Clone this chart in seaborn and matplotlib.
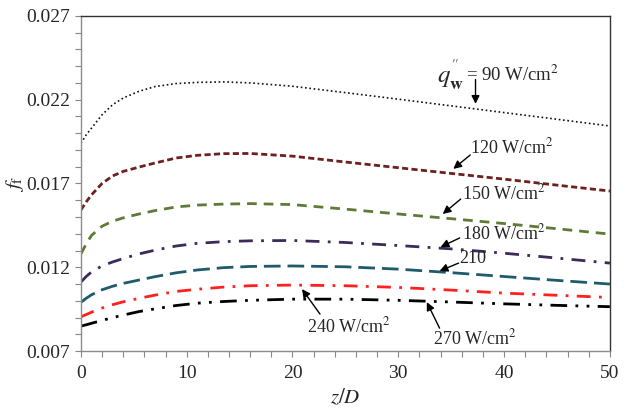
import matplotlib
matplotlib.use("Agg")
import matplotlib.pyplot as plt
import seaborn as sns
import pandas as pd
from matplotlib.ticker import MultipleLocator

sns.set_theme(style="white")
plt.rcParams['font.family'] = ['Liberation Serif', 'DejaVu Serif']
plt.rcParams['mathtext.fontset'] = 'stix'

z = [0, 0.5, 1, 2, 3, 4, 5.5, 7, 9, 11, 13.5, 16, 20, 25, 30, 35, 40, 45, 50]
f_90 = [0.0194, 0.0199, 0.0203, 0.0211, 0.0217, 0.0221, 0.0225, 0.02278, 0.02296, 0.02303,
        0.02306, 0.02300, 0.02280, 0.02242, 0.02203, 0.02163, 0.02123, 0.02083, 0.02043]
f_120 = [0.01542, 0.0159, 0.01632, 0.01700, 0.01745, 0.01772, 0.01798, 0.01822, 0.01852, 0.01868,
         0.01878, 0.01879, 0.01863, 0.01828, 0.01794, 0.0176, 0.01726, 0.0169, 0.01655]
f_150 = [0.01279, 0.0134, 0.0139, 0.01445, 0.01475, 0.01495, 0.01518, 0.01538, 0.0156, 0.01571,
         0.01577, 0.0158, 0.01574, 0.01547, 0.01518, 0.0149, 0.01461, 0.0143, 0.01398]
f_180 = [0.01112, 0.01145, 0.01172, 0.01208, 0.01232, 0.01252, 0.0128, 0.01302, 0.01327, 0.01343,
         0.01353, 0.01358, 0.0136, 0.01348, 0.0133, 0.0131, 0.01284, 0.01255, 0.01225]
f_210 = [0.00991, 0.01015, 0.01036, 0.01066, 0.01087, 0.01104, 0.01124, 0.01144, 0.01167, 0.01184,
         0.01198, 0.01205, 0.01208, 0.01203, 0.01189, 0.01168, 0.01145, 0.01122, 0.0110]
f_240 = [0.00905, 0.00918, 0.00932, 0.00957, 0.00977, 0.00994, 0.01015, 0.01034, 0.01056, 0.01069,
         0.01082, 0.0109, 0.01094, 0.0109, 0.0108, 0.01064, 0.01046, 0.01033, 0.0102]
f_270 = [0.00849, 0.00857, 0.00866, 0.00883, 0.009, 0.00915, 0.00936, 0.00952, 0.00972, 0.00986,
         0.00996, 0.01003, 0.0101, 0.0101, 0.01003, 0.00993, 0.00982, 0.00973, 0.00965]

series = [
    (f_90, '#111111', (0, (1, 1.6)), 1.2),
    (f_120, '#6E2020', (0, (2.2, 1.2)), 2.0),
    (f_150, '#5F7A38', (0, (3.5, 2.5)), 2.0),
    (f_180, '#3B2A5A', (0, (5, 3, 1, 3)), 2.0),
    (f_210, '#1E5B6B', (0, (6, 2.5)), 2.0),
    (f_240, '#FF2020', (0, (5, 3, 1, 3)), 2.0),
    (f_270, '#000000', (0, (6, 3, 1, 3, 1, 3)), 2.0),
]

fig = plt.figure(figsize=(6.32, 4.17), dpi=100)
ax = fig.add_axes([0.128, 0.158, 0.837, 0.804])

for vals, col, ls, lw in series:
    df = pd.DataFrame({'z': z, 'f': vals})
    sns.lineplot(data=df, x='z', y='f', ax=ax, color=col, linestyle=ls, lw=lw)

ax.set_xlim(0, 50)
ax.set_ylim(0.007, 0.027)
ax.set_xticks([0, 10, 20, 30, 40, 50])
ax.set_yticks([0.007, 0.012, 0.017, 0.022, 0.027])
ax.set_yticklabels(['0.007', '0.012', '0.017', '0.022', '0.027'])
ax.xaxis.set_minor_locator(MultipleLocator(2))
ax.yaxis.set_minor_locator(MultipleLocator(0.001))
ax.tick_params(which='both', direction='out', length=4, width=0.8, color='#888888',
               labelsize=14, bottom=True, left=True, top=False, right=False)
ax.tick_params(axis='x', pad=6)
for s in ['left', 'bottom']:
    ax.spines[s].set_color('#8c8c8c')
    ax.spines[s].set_linewidth(1.0)
for s in ['top', 'right']:
    ax.spines[s].set_color('#333333')
    ax.spines[s].set_linewidth(1.0)

ax.set_xlabel(r'$z/D$', fontsize=15, labelpad=4)
ax.set_ylabel(r'$f_{\mathrm{f}}$', fontsize=15)
ax.yaxis.set_label_coords(-0.104, 0.5)

arrow = dict(arrowstyle='-|>', color='black', lw=1.0, mutation_scale=12, shrinkA=0, shrinkB=0)
fs = 13
ax.text(36.2, 0.02345, r"$q^{''}_{\mathbf{w}}$", fontsize=18, ha='right', va='center')
ax.text(36.4, 0.02348, '= 90 W/cm$^2$', fontsize=13.5, ha='left', va='center')
ax.annotate('', xy=(37.3, 0.02175), xytext=(37.3, 0.0232), arrowprops=arrow)
ax.annotate('120 W/cm$^2$', xy=(35.2, 0.01787), xytext=(36.8, 0.01918), fontsize=fs, ha='left', va='center')
ax.annotate('', xy=(35.2, 0.01787), xytext=(36.8, 0.0187), arrowprops=arrow)
ax.annotate('150 W/cm$^2$', xy=(34.2, 0.01518), xytext=(36.0, 0.01643), fontsize=fs, ha='left', va='center')
ax.annotate('', xy=(34.2, 0.01518), xytext=(35.9, 0.01607), arrowprops=arrow)
ax.annotate('180 W/cm$^2$', xy=(34.0, 0.01321), xytext=(36.0, 0.01404), fontsize=fs, ha='left', va='center')
ax.annotate('', xy=(34.0, 0.01321), xytext=(35.8, 0.01375), arrowprops=arrow)
ax.annotate('210', xy=(33.9, 0.01178), xytext=(35.8, 0.01255), fontsize=fs, ha='left', va='center')
ax.annotate('', xy=(33.9, 0.01178), xytext=(35.7, 0.01225), arrowprops=arrow)
ax.annotate('240 W/cm$^2$', xy=(20.9, 0.0107), xytext=(25.3, 0.00849), fontsize=fs, ha='center', va='center')
ax.annotate('', xy=(20.9, 0.0107), xytext=(22.6, 0.00921), arrowprops=arrow)
ax.annotate('270 W/cm$^2$', xy=(32.7, 0.00992), xytext=(37.2, 0.00778), fontsize=fs, ha='center', va='center')
ax.annotate('', xy=(32.7, 0.00992), xytext=(33.9, 0.00837), arrowprops=arrow)

fig.savefig('out.png', dpi=100)
